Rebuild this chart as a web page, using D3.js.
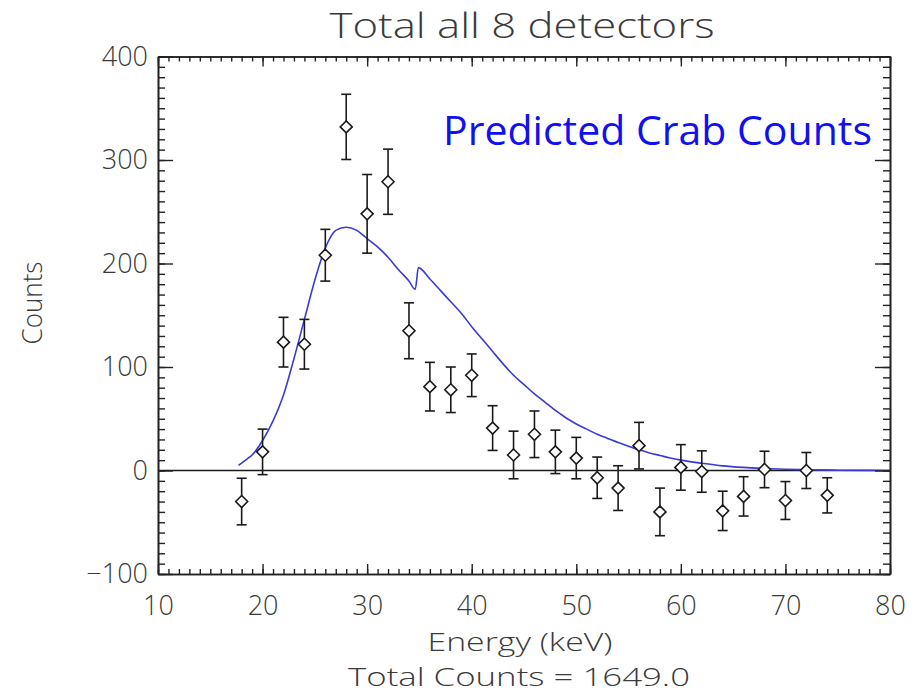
<!DOCTYPE html>
<html>
<head>
<meta charset="utf-8">
<script src="https://cdn.jsdelivr.net/npm/d3@7"></script>
<style>
  body { margin: 0; background: #fff; }
  text { font-family: "Open Sans", "DejaVu Sans", sans-serif; }
</style>
</head>
<body>
<div id="chart"></div>
<script>
// measured points (energy in keV, counts, 1-sigma error)
const energy = [18, 20, 22, 24, 26, 28, 30, 32, 34, 36, 38, 40, 42, 44, 46, 48, 50, 52, 54, 56, 58, 60, 62, 64, 66, 68, 70, 72, 74];
const counts = [-30, 18, 124, 122, 208, 332, 248, 279, 135, 81, 78, 92, 41, 15, 35, 18, 12, -7, -17, 24, -40, 3, -1, -39, -25, 1, -29, 0, -24];
const errors = [22.5, 22, 24, 24, 25, 31.5, 38, 31.5, 27, 23.5, 22, 20.6, 21.6, 23, 22.5, 21, 20, 20, 21.6, 22.5, 23, 22, 20, 19, 19, 17.6, 18.3, 17.4, 17];

// predicted crab model curve
const modelEnergy = [17.7, 18.5, 19, 20, 21, 22, 23, 24, 25, 26, 27, 28, 29, 30, 31, 32, 33, 34, 34.6, 34.9, 36, 37, 38, 39, 40, 41, 42, 43, 44, 45, 46, 47, 48, 49, 50, 51, 52, 53, 54, 55, 56, 57, 58, 59, 60, 62, 64, 66, 68, 70, 72, 75, 80];
const modelCounts = [5, 11, 15, 29, 48, 73, 108, 146, 184, 215, 232, 235, 232, 224, 216, 206, 194, 183, 175, 196, 185, 174, 163, 152, 139, 127, 115, 103, 92, 83, 74, 66, 58, 51, 45, 40, 35, 31, 27, 23.5, 20, 17, 14.5, 12, 10, 7, 4.5, 3, 2, 1.2, 0.7, 0.3, 0];

const xMajor = [10, 20, 30, 40, 50, 60, 70, 80];
const yMajor = [-100, 0, 100, 200, 300, 400];

const width = 922, height = 694;
const plotLeft = 158, plotRight = 890, plotTop = 56.5, plotBottom = 574;

const svg = d3.select("#chart").append("svg")
  .attr("width", width)
  .attr("height", height);

svg.append("rect").attr("width", width).attr("height", height).attr("fill", "#fff");

const x = d3.scaleLinear().domain([10, 80]).range([plotLeft, plotRight]);
const y = d3.scaleLinear().domain([-100, 400]).range([plotBottom, plotTop]);

const xMinor = d3.range(10, 81, 1);
const yMinor = d3.range(-100, 401, 10);

// zero line
svg.append("line")
  .attr("x1", x(10)).attr("x2", x(80))
  .attr("y1", y(0)).attr("y2", y(0))
  .attr("stroke", "#1a1a1a").attr("stroke-width", 1.4);

// model curve
const line = d3.line()
  .x((d, i) => x(modelEnergy[i]))
  .y(d => y(d))
  .curve(d3.curveMonotoneX);

svg.append("path")
  .datum(modelCounts)
  .attr("d", line)
  .attr("fill", "none")
  .attr("stroke", "#3a3ad8")
  .attr("stroke-width", 1.6);

// error bars
const pts = energy.map((e, i) => ({ e: e, c: counts[i], s: errors[i] }));
const bars = svg.append("g")
  .attr("stroke", "#1a1a1a")
  .attr("stroke-width", 1.6)
  .attr("fill", "none");

bars.selectAll("line.v").data(pts).enter().append("line")
  .attr("x1", d => x(d.e)).attr("x2", d => x(d.e))
  .attr("y1", d => y(d.c + d.s)).attr("y2", d => y(d.c - d.s));
bars.selectAll("line.t").data(pts).enter().append("line")
  .attr("x1", d => x(d.e) - 5).attr("x2", d => x(d.e) + 5)
  .attr("y1", d => y(d.c + d.s)).attr("y2", d => y(d.c + d.s));
bars.selectAll("line.b").data(pts).enter().append("line")
  .attr("x1", d => x(d.e) - 5).attr("x2", d => x(d.e) + 5)
  .attr("y1", d => y(d.c - d.s)).attr("y2", d => y(d.c - d.s));

// diamonds
bars.selectAll("path").data(pts).enter().append("path")
  .attr("transform", d => "translate(" + x(d.e) + "," + y(d.c) + ")")
  .attr("d", "M0,-6L6,0L0,6L-6,0Z")
  .attr("fill", "#fff");

// axes (ticks point inward on all four sides)
function styleAxis(g) {
  g.select(".domain").attr("stroke", "#222").attr("stroke-width", 1.6);
  g.selectAll(".tick line").attr("stroke", "#222").attr("stroke-width", 1.4);
  g.selectAll("text")
    .attr("fill", "#3a3a3a")
    .style("font-size", "27px")
    .style("font-weight", 300)
    .style("font-family", '"Open Sans", "DejaVu Sans", sans-serif');
}

svg.append("g").attr("transform", "translate(0," + plotBottom + ")")
  .call(d3.axisBottom(x).tickValues(xMinor).tickSize(-5).tickFormat("").tickSizeOuter(0))
  .call(styleAxis);
svg.append("g").attr("transform", "translate(0," + plotBottom + ")")
  .call(d3.axisBottom(x).tickValues(xMajor).tickSize(-10).tickPadding(22).tickSizeOuter(0).tickFormat(d3.format("d")))
  .call(styleAxis);

svg.append("g").attr("transform", "translate(0," + plotTop + ")")
  .call(d3.axisTop(x).tickValues(xMinor).tickSize(-5).tickFormat("").tickSizeOuter(0))
  .call(styleAxis);
svg.append("g").attr("transform", "translate(0," + plotTop + ")")
  .call(d3.axisTop(x).tickValues(xMajor).tickSize(-10).tickFormat("").tickSizeOuter(0))
  .call(styleAxis);

svg.append("g").attr("transform", "translate(" + plotLeft + ",0)")
  .call(d3.axisLeft(y).tickValues(yMinor).tickSize(-7).tickFormat("").tickSizeOuter(0))
  .call(styleAxis);
svg.append("g").attr("transform", "translate(" + plotLeft + ",0)")
  .call(d3.axisLeft(y).tickValues(yMajor).tickSize(-15).tickPadding(10).tickSizeOuter(0)
    .tickFormat(d => d < 0 ? "\u2212" + Math.abs(d) : d))
  .call(styleAxis);

svg.append("g").attr("transform", "translate(" + plotRight + ",0)")
  .call(d3.axisRight(y).tickValues(yMinor).tickSize(-7).tickFormat("").tickSizeOuter(0))
  .call(styleAxis);
svg.append("g").attr("transform", "translate(" + plotRight + ",0)")
  .call(d3.axisRight(y).tickValues(yMajor).tickSize(-15).tickFormat("").tickSizeOuter(0))
  .call(styleAxis);

// text
svg.append("text")
  .attr("x", 522).attr("y", 38)
  .attr("text-anchor", "middle")
  .attr("fill", "#3a3a3a")
  .style("font-size", "34px").style("font-weight", 300)
  .attr("textLength", 385).attr("lengthAdjust", "spacingAndGlyphs")
  .text("Total all 8 detectors");

svg.append("text")
  .attr("x", 520).attr("y", 651)
  .attr("text-anchor", "middle")
  .attr("fill", "#3a3a3a")
  .style("font-size", "26px").style("font-weight", 300)
  .attr("textLength", 185).attr("lengthAdjust", "spacingAndGlyphs")
  .text("Energy (keV)");

svg.append("text")
  .attr("x", 519).attr("y", 686)
  .attr("text-anchor", "middle")
  .attr("fill", "#3a3a3a")
  .style("font-size", "25.5px").style("font-weight", 300)
  .attr("textLength", 342).attr("lengthAdjust", "spacingAndGlyphs")
  .text("Total Counts = 1649.0");

svg.append("text")
  .attr("transform", "translate(42,303) rotate(-90)")
  .attr("text-anchor", "middle")
  .attr("fill", "#3a3a3a")
  .style("font-size", "28px").style("font-weight", 300)
  .attr("textLength", 83).attr("lengthAdjust", "spacingAndGlyphs")
  .text("Counts");

svg.append("text")
  .attr("x", 443).attr("y", 145)
  .attr("fill", "#1010f0")
  .style("font-size", "41px")
  .attr("textLength", 429).attr("lengthAdjust", "spacingAndGlyphs")
  .text("Predicted Crab Counts");
</script>
</body>
</html>
